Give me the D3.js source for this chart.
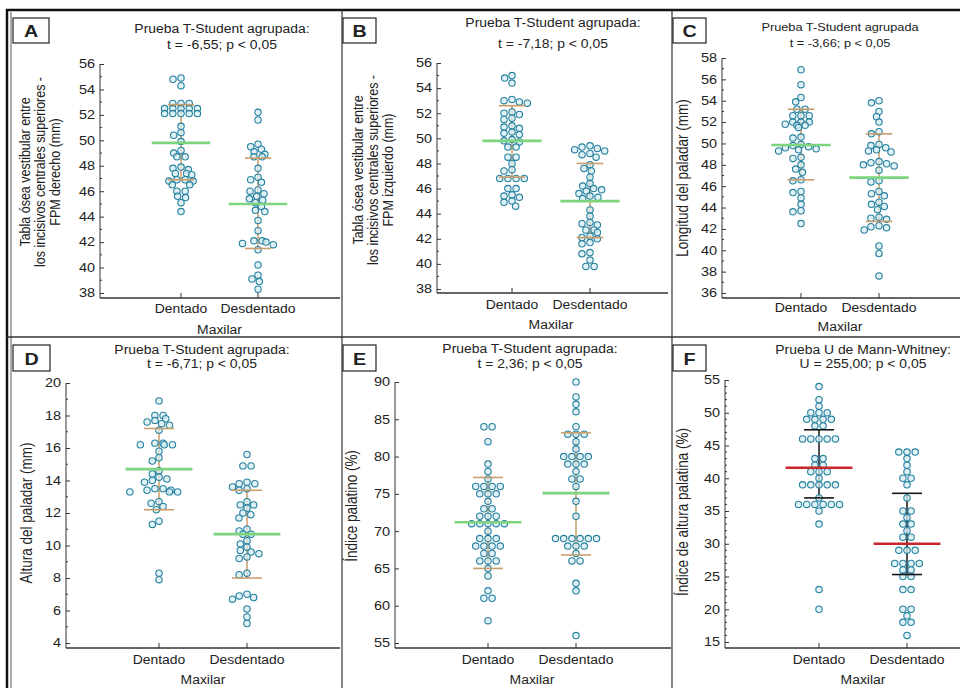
<!DOCTYPE html>
<html>
<head>
<meta charset="UTF-8">
<title>Maxilar: dentado vs desdentado</title>
<style>
body { margin: 0; background: #fff; }
text { font-family: Arial, "Liberation Sans", sans-serif; fill: #222; }
</style>
</head>
<body>
<script src="https://cdn.jsdelivr.net/npm/d3@7/dist/d3.min.js"></script>
<script>
// ---- data ----
var groups = ["Dentado", "Desdentado"];
var letters = ["A", "B", "C", "D", "E", "F"];
var titles = [
  ["Prueba T-Student agrupada:", "t = -6,55; p < 0,05"],
  ["Prueba T-Student agrupada:", "t = -7,18; p < 0,05"],
  ["Prueba T-Student agrupada", "t = -3,66; p < 0,05"],
  ["Prueba T-Student agrupada:", "t = -6,71; p < 0,05"],
  ["Prueba T-Student agrupada:", "t = 2,36; p < 0,05"],
  ["Prueba U de Mann-Whitney:", "U = 255,00; p < 0,05"]
];
var yLabels = [
  ["Tabla ósea vestibular entre", "los incisivos centrales superiores -", "FPM derecho (mm)"],
  ["Tabla ósea vestibular entre", "los incisivos centrales superiores -", "FPM izquierdo (mm)"],
  ["Longitud del paladar (mm)"],
  ["Altura del paladar (mm)"],
  ["Índice palatino (%)"],
  ["Índice de altura palatina (%)"]
];
var xLabel = "Maxilar";

var ticksA = [38, 40, 42, 44, 46, 48, 50, 52, 54, 56];
var ticksB = [38, 40, 42, 44, 46, 48, 50, 52, 54, 56];
var ticksC = [36, 38, 40, 42, 44, 46, 48, 50, 52, 54, 56, 58];
var ticksD = [4, 6, 8, 10, 12, 14, 16, 18, 20];
var ticksE = [55, 60, 65, 70, 75, 80, 85, 90];
var ticksF = [15, 20, 25, 30, 35, 40, 45, 50, 55];

var dentA = [54.9, 54.8, 54.3, 52.9, 52.9, 52.9, 52.5, 52.5, 52.5, 52.5, 52.5, 52.1, 52.1, 52.1, 52.1, 52.1,
  51.1, 50.6, 50.4, 49.9, 49.2, 49.0, 48.7, 48.7, 47.9, 47.8, 47.7, 47.4, 47.4, 47.3, 46.9, 46.9, 46.8, 46.8,
  46.5, 46.5, 46.0, 46.0, 45.6, 45.5, 45.1, 44.4];
var desdA = [52.2, 51.6, 49.7, 49.5, 49.3, 49.1, 48.9, 48.7, 48.7, 47.8, 47.1, 46.9, 46.7, 46.1, 46.0, 45.8,
  45.6, 45.4, 45.3, 45.1, 44.8, 44.5, 44.4, 43.7, 42.9, 42.1, 42.1, 42.0, 41.9, 41.8, 41.4, 40.2, 39.4, 39.1,
  38.9, 38.3];
var dentB = [55.0, 54.8, 54.4, 53.1, 53.0, 52.9, 52.8, 52.1, 52.0, 51.9, 51.6, 51.5, 51.0, 50.9, 50.8, 50.5,
  50.4, 50.3, 49.9, 49.8, 49.7, 49.3, 49.3, 48.5, 48.5, 48.0, 47.5, 47.4, 46.8, 46.8, 46.8, 46.8, 46.0, 46.0,
  45.5, 45.4, 45.3, 45.0, 44.9, 44.6];
var desdB = [49.4, 49.3, 49.2, 49.1, 49.0, 48.8, 48.7, 48.5, 47.9, 47.6, 47.4, 46.9, 46.4, 46.2, 46.0, 45.9,
  45.8, 45.6, 45.4, 45.3, 45.2, 44.3, 43.8, 43.3, 43.2, 43.1, 42.7, 42.7, 42.5, 42.2, 42.1, 42.0, 41.7, 41.6,
  40.9, 40.8, 40.3, 39.8, 39.8];
var dentC = [56.9, 55.5, 54.3, 53.9, 53.2, 53.2, 52.6, 52.6, 52.6, 52.0, 52.0, 52.0, 51.7, 51.7, 51.5, 51.8,
  50.6, 50.5, 49.9, 49.8, 49.7, 49.6, 49.5, 49.4, 49.3, 48.7, 48.6, 48.0, 47.6, 47.3, 46.6, 46.5, 45.5, 45.4,
  44.9, 44.3, 43.7, 43.6, 42.5];
var desdC = [54.0, 53.8, 53.0, 52.5, 52.0, 51.1, 50.9, 49.9, 49.8, 49.6, 49.4, 49.3, 49.2, 48.3, 48.2, 48.1,
  48.0, 47.9, 47.5, 46.5, 46.4, 45.5, 45.3, 45.1, 44.5, 44.3, 44.1, 43.8, 43.1, 43.0, 42.9, 42.3, 42.2, 42.1,
  41.9, 40.4, 39.7, 37.6];
var dentD = [18.9, 18.0, 18.0, 17.8, 17.7, 17.6, 17.5, 17.4, 17.1, 16.3, 16.3, 16.2, 16.2, 16.2, 15.8, 15.4,
  15.2, 14.6, 14.4, 14.2, 14.1, 14.0, 13.9, 13.5, 13.5, 13.4, 13.4, 13.3, 13.3, 13.3, 12.7, 12.6, 12.4, 12.2,
  11.5, 11.3, 8.3, 7.9];
var desdD = [15.6, 14.9, 14.9, 13.9, 13.8, 13.8, 13.6, 13.5, 13.4, 12.7, 12.5, 12.5, 12.3, 12.0, 11.9, 11.7,
  11.0, 10.9, 10.7, 10.7, 10.3, 10.1, 9.9, 9.7, 9.6, 9.5, 9.3, 9.2, 8.3, 8.2, 7.0, 6.9, 6.8, 6.7, 6.1, 5.6, 5.2];
var dentE = [84, 84, 82, 79, 78, 77, 76, 76, 76, 76, 75, 75, 75, 74, 73, 73, 72, 72, 72, 71, 71, 71, 71, 71,
  70, 69, 69, 69, 68, 68, 68, 68, 67, 67, 66, 66, 66, 65, 64, 62, 61, 61, 58];
var desdE = [90, 88, 87, 86, 84, 83, 83, 83, 82, 81, 80, 80, 80, 80, 79, 79, 79, 78, 77, 77, 76, 74, 72,
  69, 69, 69, 69, 69, 69, 68, 68, 68, 67, 66, 66, 63, 62, 56];
var dentF = [54, 52, 51, 50, 50, 50, 49, 49, 49, 49, 48, 48, 46, 46, 46, 46, 46, 43, 43, 42, 42, 41, 41, 41,
  40, 39, 39, 39, 39, 39, 37, 36, 36, 36, 36, 36, 36, 35, 33, 23, 20];
var desdF = [44, 44, 44, 43, 42, 41, 40, 40, 39, 37, 35, 35, 34, 33, 33, 32, 31, 31, 29, 29, 29, 27, 27, 27,
  27, 26, 26, 25, 25, 23, 23, 20, 20, 19, 18, 18, 16];

// mean (median in F) and the ends of the error bars, per group
var centerA = [49.8, 45.0],  lowA = [46.9, 41.5], highA = [52.8, 48.6];
var centerB = [49.8, 45.0],  lowB = [46.9, 42.1], highB = [52.6, 48.0];
var centerC = [49.85, 46.8], lowC = [46.6, 42.7], highC = [53.2, 50.9];
var centerD = [14.7, 10.7],  lowD = [12.2, 8.0],  highD = [17.2, 13.4];
var centerE = [71.2, 75.1],  lowE = [65.0, 66.8], highE = [77.2, 83.2];
var centerF = [41.6, 30.0],  lowF = [37.0, 25.3], highF = [47.4, 37.7];

// ---- layout ----
var SX = 1.16; // the source figure is stretched horizontally
var panels = [
  {series: [dentA, desdA], center: centerA, low: lowA, high: highA, ticks: ticksA, minor: 1,
   x0: 100, x1: 340, yTop: 64, yBot: 293, axisY: 298, cats: [181, 258],
   titleX: 222, titleY: [29, 45], titleSize: 12, labX: [25, 40, 55], labY: 172, labSize: 12.5,
   tickY: 309, capY: 330, box: [13, 18, 36, 25]},
  {series: [dentB, desdB], center: centerB, low: lowB, high: highB, ticks: ticksB, minor: 1,
   x0: 437, x1: 668, yTop: 63, yBot: 289, axisY: 293, cats: [512, 590],
   titleX: 553, titleY: [23, 44], titleSize: 12, labX: [358, 373, 388], labY: 170, labSize: 12.5,
   tickY: 305, capY: 325, box: [343, 18, 33, 25]},
  {series: [dentC, desdC], center: centerC, low: lowC, high: highC, ticks: ticksC, minor: 1,
   x0: 722, x1: 960, yTop: 58, yBot: 293, axisY: 298, cats: [801, 879],
   titleX: 840, titleY: [27, 43], titleSize: 11, labX: [683], labY: 178, labSize: 13.5,
   tickY: 308, capY: 327, box: [673, 18, 33, 25]},
  {series: [dentD, desdD], center: centerD, low: lowD, high: highD, ticks: ticksD, minor: 1,
   x0: 66, x1: 340, yTop: 383, yBot: 643, axisY: 648, cats: [159, 247],
   titleX: 202, titleY: [350, 364], titleSize: 12, labX: [27], labY: 513, labSize: 13.5,
   tickY: 660, capY: 680, box: [13, 345, 37, 26]},
  {series: [dentE, desdE], center: centerE, low: lowE, high: highE, ticks: ticksE, minor: 0,
   x0: 395, x1: 671, yTop: 382, yBot: 643, axisY: 648, cats: [488, 576],
   titleX: 530, titleY: [349, 364], titleSize: 12, labX: [352], labY: 506, labSize: 13.5,
   tickY: 660, capY: 680, box: [343, 345, 33, 26]},
  {series: [dentF, desdF], center: centerF, low: lowF, high: highF, ticks: ticksF, minor: 1,
   x0: 725, x1: 960, yTop: 380, yBot: 642, axisY: 648, cats: [819, 907],
   titleX: 863, titleY: [350, 364], titleSize: 12, labX: [683], labY: 512, labSize: 13.5,
   tickY: 660, capY: 680, box: [673, 345, 33, 26], red: true}
];

var width = 960, height = 688;
var svg = d3.select("body").append("svg")
  .attr("width", width)
  .attr("height", height);

// stretched text helper
function label(g, x, y, str, size, anchor, weight) {
  return g.append("text")
    .attr("transform", "translate(" + x + "," + y + ") scale(" + SX + ",1)")
    .attr("text-anchor", anchor || "middle")
    .attr("dy", "0.35em")
    .style("font-size", size + "px")
    .style("font-weight", weight || "normal")
    .text(str);
}

// simple beeswarm: greedy placement, elliptical collision
function swarm(vals, y) {
  var a = 8.2, b = 5.6;
  var pts = vals.map(function(v) { return {v: v, y: y(v), dx: 0}; });
  pts.sort(function(p, q) { return p.y - q.y; });
  var placed = [];
  pts.forEach(function(p) {
    var near = [];
    placed.forEach(function(q) {
      var dy = Math.abs(q.y - p.y);
      if (dy < b) near.push({dx: q.dx, w: a * Math.sqrt(1 - (dy / b) * (dy / b))});
    });
    var cands = [0];
    near.forEach(function(q) { cands.push(q.dx - q.w, q.dx + q.w); });
    cands.sort(function(m, n) { return Math.abs(m) - Math.abs(n) || m - n; });
    for (var i = 0; i < cands.length; i++) {
      var c = cands[i];
      var ok = near.every(function(q) { return Math.abs(c - q.dx) >= q.w - 1e-6; });
      if (ok) { p.dx = c; break; }
    }
    placed.push(p);
  });
  // centre rows of identical values
  d3.group(placed, function(d) { return d.v; }).forEach(function(row) {
    if (row.length < 2) return;
    var m = d3.mean(row, function(d) { return d.dx; });
    row.forEach(function(d) { d.dx -= m; });
  });
  return placed;
}

// frame
svg.append("rect")
  .attr("x", 7).attr("y", 10).attr("width", 960).attr("height", 690)
  .attr("fill", "none").attr("stroke", "#111").attr("stroke-width", 2.5);
svg.append("line").attr("x1", 11).attr("x2", 11).attr("y1", 12).attr("y2", 688)
  .attr("stroke", "#555").attr("stroke-width", 1);
[342, 672].forEach(function(x) {
  svg.append("line").attr("x1", x).attr("x2", x).attr("y1", 10).attr("y2", 688)
    .attr("stroke", "#333").attr("stroke-width", 1.2);
});
svg.append("line").attr("x1", 7).attr("x2", 960).attr("y1", 337).attr("y2", 337)
  .attr("stroke", "#333").attr("stroke-width", 1.5);

panels.forEach(function(p, pi) {
  var g = svg.append("g");
  var t0 = p.ticks[0], t1 = p.ticks[p.ticks.length - 1];
  var y = d3.scaleLinear().domain([t0, t1]).range([p.yBot, p.yTop]);
  var x = d3.scalePoint().domain(groups).range(p.cats).padding(0);
  var step = p.cats[1] - p.cats[0];

  // y axis (ticks point inward)
  var yAxis = g.append("g").attr("transform", "translate(" + p.x0 + ",0)")
    .call(d3.axisLeft(y).tickValues(p.ticks).tickSize(-4).tickPadding(5).tickFormat(d3.format("d")));
  yAxis.select(".domain").remove();
  yAxis.selectAll(".tick line").attr("stroke", "#333");
  yAxis.selectAll(".tick text").remove();
  if (p.minor) {
    var minor = d3.range(t0, t1, p.minor).filter(function(v) { return p.ticks.indexOf(v) < 0; });
    g.selectAll(".minor").data(minor).enter().append("line")
      .attr("x1", p.x0).attr("x2", p.x0 + 2)
      .attr("y1", function(d) { return y(d); }).attr("y2", function(d) { return y(d); })
      .attr("stroke", "#333");
  }
  p.ticks.forEach(function(v) { label(g, p.x0 - 5, y(v), String(v), 12.5, "end"); });
  g.append("line").attr("x1", p.x0).attr("x2", p.x0).attr("y1", p.yTop).attr("y2", p.axisY)
    .attr("stroke", "#333").attr("stroke-width", 1);

  // x axis
  g.append("line").attr("x1", p.x0).attr("x2", p.x1).attr("y1", p.axisY).attr("y2", p.axisY)
    .attr("stroke", "#333").attr("stroke-width", 1.6);
  groups.forEach(function(c) {
    g.append("line").attr("x1", x(c)).attr("x2", x(c)).attr("y1", p.axisY).attr("y2", p.axisY - 5)
      .attr("stroke", "#333");
    label(g, x(c), p.tickY, c, 12);
  });
  label(g, (p.cats[0] + p.cats[1]) / 2, p.capY, xLabel, 12);

  // titles
  label(g, p.titleX, p.titleY[0], titles[pi][0], p.titleSize);
  label(g, p.titleX, p.titleY[1], titles[pi][1], p.titleSize);

  // y label
  yLabels[pi].forEach(function(line, li) {
    g.append("text")
      .attr("transform", "translate(" + p.labX[li] + "," + p.labY + ") rotate(-90) scale(1," + SX + ")")
      .attr("text-anchor", "middle").attr("dy", "0.35em")
      .style("font-size", p.labSize + "px").text(line);
  });

  // letter box
  g.append("rect").attr("x", p.box[0]).attr("y", p.box[1]).attr("width", p.box[2]).attr("height", p.box[3])
    .attr("fill", "#fff").attr("stroke", "#222").attr("stroke-width", 1.2);
  label(g, p.box[0] + p.box[2] / 2, p.box[1] + p.box[3] / 2 + 1, letters[pi], 17, "middle", "bold");

  var barColor = p.red ? "#151515" : "#c99d6c";
  var midColor = p.red ? "#c9262c" : "#7cd47c";

  groups.forEach(function(c, gi) {
    var cx = x(c);
    // vertical bar
    g.append("line").attr("x1", cx).attr("x2", cx)
      .attr("y1", y(p.low[gi])).attr("y2", y(p.high[gi]))
      .attr("stroke", barColor).attr("stroke-width", 1.5);
    // points
    g.selectAll(".pt" + gi).data(swarm(p.series[gi], y)).enter().append("circle")
      .attr("cx", function(d) { return cx + d.dx; })
      .attr("cy", function(d) { return d.y; })
      .attr("r", 3.2)
      .attr("fill", "#d6edf2").attr("fill-opacity", 0.75)
      .attr("stroke", "#25809f").attr("stroke-width", 1.1);
    // caps
    [p.low[gi], p.high[gi]].forEach(function(v) {
      g.append("line").attr("x1", cx - step * 0.17).attr("x2", cx + step * 0.17)
        .attr("y1", y(v)).attr("y2", y(v))
        .attr("stroke", barColor).attr("stroke-width", 1.6);
    });
    // mean / median
    g.append("line").attr("x1", cx - step * 0.38).attr("x2", cx + step * 0.38)
      .attr("y1", y(p.center[gi])).attr("y2", y(p.center[gi]))
      .attr("stroke", midColor).attr("stroke-width", 2.6);
  });
});
</script>
</body>
</html>
